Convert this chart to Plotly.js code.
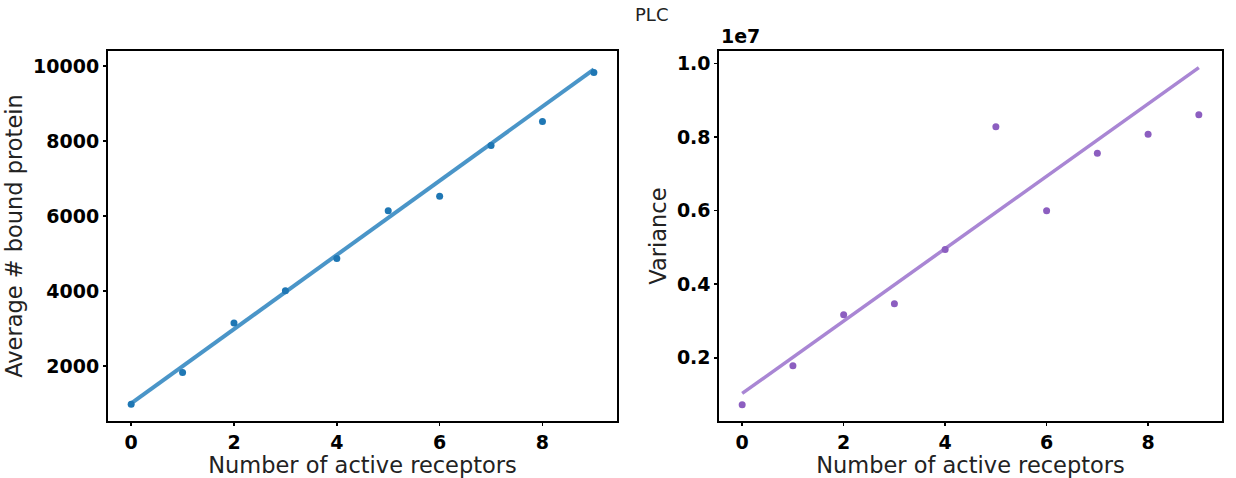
<!DOCTYPE html>
<html>
<head>
<meta charset="utf-8">
<script src="https://cdn.plot.ly/plotly-3.0.1.min.js"></script>
<style>html,body{margin:0;padding:0;background:#fff}#chart{width:1236px;height:478px}</style>
</head>
<body>
<div id="chart"></div>
<script>
// Data
const receptors = [0, 1, 2, 3, 4, 5, 6, 7, 8, 9];
const avgBound = [980, 1830, 3150, 4010, 4870, 6140, 6530, 7880, 8520, 9830];
const avgFitX = [0, 9];
const avgFitY = [1005, 9910];
const variance = [725000, 1780000, 3170000, 3470000, 4940000, 8280000, 6000000, 7560000, 8080000, 8610000];
const varFitX = [0, 9];
const varFitY = [1030000, 9890000];
const xTicks = [0, 2, 4, 6, 8];
const leftYTicks = [2000, 4000, 6000, 8000, 10000];
const rightYTickLabels = ['0.2', '0.4', '0.6', '0.8', '1.0'];
const rightScale = 1e7;

const tickFont = {family: 'DejaVu Sans', size: 19, color: '#000', weight: 'bold'};
const titleFont = {family: 'DejaVu Sans', size: 22.5, color: '#222'};

const traces = [
  {x: avgFitX, y: avgFitY, mode: 'lines', line: {color: '#4a95c8', width: 4}, xaxis: 'x', yaxis: 'y', hoverinfo: 'skip'},
  {x: receptors, y: avgBound, mode: 'markers', marker: {color: '#1f77b4', size: 7}, xaxis: 'x', yaxis: 'y'},
  {x: varFitX, y: varFitY, mode: 'lines', line: {color: '#a986d4', width: 3.5}, xaxis: 'x2', yaxis: 'y2', hoverinfo: 'skip'},
  {x: receptors, y: variance, mode: 'markers', marker: {color: '#8c5ec0', size: 7}, xaxis: 'x2', yaxis: 'y2'}
];

const axBase = {
  showgrid: false, zeroline: false, showline: true, mirror: true,
  linecolor: '#000', linewidth: 2, ticks: 'outside', ticklen: 3, tickwidth: 1.5,
  tickcolor: '#000', tickfont: tickFont
};

const layout = {
  width: 1236, height: 478,
  margin: {l: 0, r: 0, t: 0, b: 0},
  paper_bgcolor: '#fff', plot_bgcolor: '#fff',
  showlegend: false,
  xaxis: Object.assign({}, axBase, {domain: [0.0874, 0.4992], range: [-0.45, 9.45], tickvals: xTicks,
    title: {text: 'Number of active receptors', font: titleFont, standoff: 0}, anchor: 'y'}),
  yaxis: Object.assign({}, axBase, {domain: [0.1192, 0.8933], range: [533, 10400], tickvals: leftYTicks,
    ticktext: leftYTicks.map(String),
    title: {text: 'Average # bound protein', font: titleFont, standoff: 4}, anchor: 'x'}),
  xaxis2: Object.assign({}, axBase, {domain: [0.582, 0.9884], range: [-0.45, 9.45], tickvals: xTicks,
    title: {text: 'Number of active receptors', font: titleFont, standoff: 0}, anchor: 'y2'}),
  yaxis2: Object.assign({}, axBase, {domain: [0.1192, 0.8933], range: [280000, 10340000],
    tickvals: rightYTickLabels.map(t => parseFloat(t) * rightScale), ticktext: rightYTickLabels,
    title: {text: 'Variance', font: titleFont, standoff: 4}, anchor: 'x2'}),
  annotations: [
    {text: 'PLC', xref: 'paper', yref: 'paper', x: 0.527, y: 0.97, xanchor: 'center', yanchor: 'middle',
     showarrow: false, font: {family: 'DejaVu Sans', size: 18, color: '#222'}},
    {text: '1e7', xref: 'paper', yref: 'paper', x: 0.582, y: 0.898, xanchor: 'left', yanchor: 'bottom',
     showarrow: false, font: tickFont}
  ]
};

Plotly.newPlot('chart', traces, layout, {displayModeBar: false, staticPlot: true});
</script>
</body>
</html>
